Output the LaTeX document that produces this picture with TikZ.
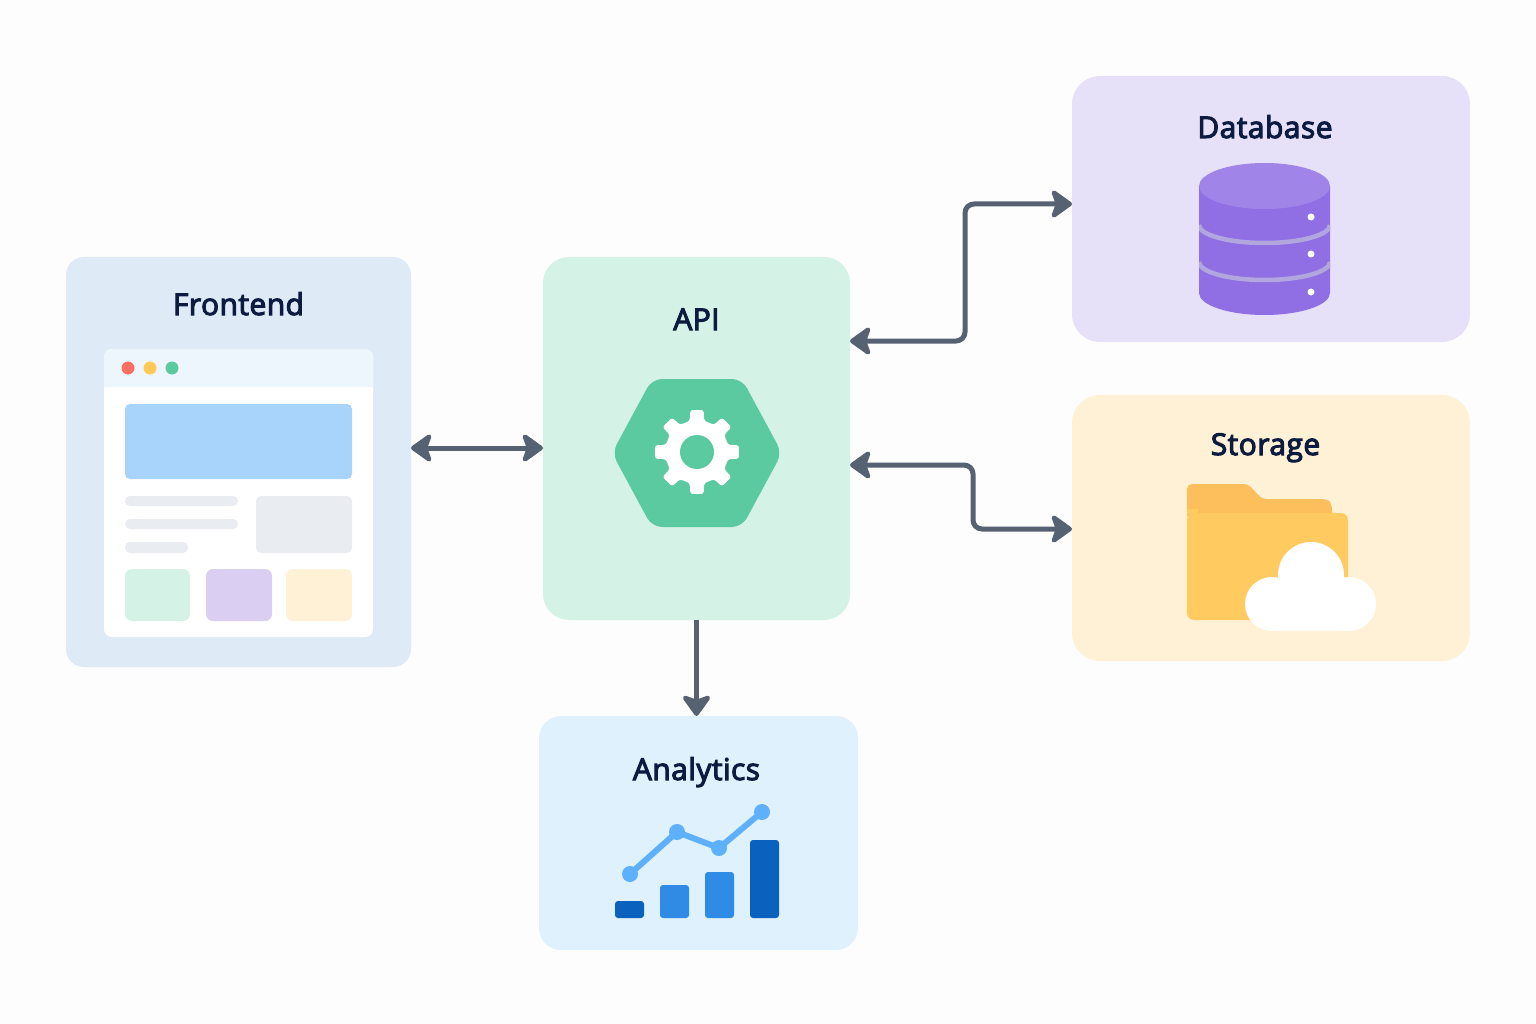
\documentclass[tikz,border=0pt]{standalone}
\usepackage{fontspec}
\setmainfont{Open Sans}[FakeBold=3.5,LetterSpace=1.5]
\usetikzlibrary{arrows.meta}
\definecolor{bgc}{HTML}{FDFDFD}
\definecolor{inkc}{HTML}{0C1B3F}
\definecolor{linec}{HTML}{566172}
\definecolor{fec}{HTML}{DEEBF7}
\definecolor{apic}{HTML}{D5F2E6}
\definecolor{hexc}{HTML}{5BCAA1}
\definecolor{dbc}{HTML}{E6E0F9}
\definecolor{stc}{HTML}{FFF1D6}
\definecolor{anc}{HTML}{DFF1FC}
\definecolor{barc}{HTML}{EEF6FD}
\definecolor{heroc}{HTML}{A8D3FB}
\definecolor{greyc}{HTML}{E9ECF1}
\definecolor{purc}{HTML}{DACFF3}
\definecolor{cylc}{HTML}{8F6FE3}
\definecolor{cyltop}{HTML}{A084E8}
\definecolor{bandc}{HTML}{B3A5DD}
\definecolor{foldb}{HTML}{FDBF5C}
\definecolor{foldf}{HTML}{FFCA5F}
\definecolor{bard}{HTML}{0B62BE}
\definecolor{barm}{HTML}{2E8BE6}
\definecolor{ptc}{HTML}{5FB0FB}
\definecolor{dotr}{HTML}{FF6F61}
\definecolor{doty}{HTML}{FFC857}
\tikzset{
  panel/.style={rectangle,inner sep=0pt,outer sep=0pt,draw=none},
  label/.style={text=inkc,font=\fontsize{30}{36}\selectfont,inner sep=0pt,anchor=base},
  headtip/.tip={Stealth[length=24pt,width=34pt,inset=6pt,round,sep=0pt]},
  link/.style={draw=linec,line width=5pt,rounded corners=9pt,headtip-headtip},
  linkone/.style={draw=linec,line width=5pt,-headtip},
}
\newcommand{\rbox}[6]{\fill[#6,rounded corners=#5pt] (#1,#2) rectangle (#3,#4);}
\begin{document}
\begin{tikzpicture}[x=1pt,y=-1pt]
\useasboundingbox (0,0) rectangle (1536,1024);
\fill[bgc] (0,0) rectangle (1536,1024);
% panels
\node[panel,fill=fec,rounded corners=18pt,minimum width=345pt,minimum height=410pt] (frontend) at (238.5,462) {};
\node[panel,fill=apic,rounded corners=26pt,minimum width=307pt,minimum height=363pt] (api) at (696.5,438.5) {};
\node[panel,fill=dbc,rounded corners=28pt,minimum width=398pt,minimum height=266pt] (database) at (1271,209) {};
\node[panel,fill=stc,rounded corners=28pt,minimum width=398pt,minimum height=266pt] (storage) at (1271,528) {};
\node[panel,fill=anc,rounded corners=22pt,minimum width=319pt,minimum height=234pt] (analytics) at (698.5,833) {};
% labels
\node[label] (lf) at (238.5,315) {Frontend};
\node[label] (la) at (696.5,330) {API};
\node[label] (ld) at (1265,138) {Database};
\node[label] (ls) at (1265.5,455) {Storage};
\node[label] (ln) at (696.5,780) {Analytics};
% connectors
\coordinate (fr) at (frontend.east |- 0,448);
\coordinate (al) at (api.west |- 0,448);
\coordinate (adb) at (api.east |- 0,341);
\coordinate (dba) at (database.west |- 0,204);
\coordinate (ast) at (api.east |- 0,465);
\coordinate (sta) at (storage.west |- 0,529);
\draw[link] (fr) -- (al);
\draw[link] (adb) -| (965,204) -- (dba);
\draw[link] (ast) -| (973,529) -- (sta);
\draw[linkone] (api.south) -- (api.south |- analytics.north);
% window
\rbox{104}{349}{373}{637}{8}{white}
\fill[barc,rounded corners=8pt] (104,395) -- (104,349) -- (373,349) -- (373,395) -- cycle;
\fill[white] (104,387) rectangle (373,397);
\fill[dotr] (128,368) circle (6.5);
\fill[doty] (150,368) circle (6.5);
\fill[hexc] (172,368) circle (6.5);
\rbox{125}{404}{352}{479}{5}{heroc}
\rbox{125}{496}{238}{506}{5}{greyc}
\rbox{125}{519}{238}{529}{5}{greyc}
\rbox{125}{542}{188}{553}{5}{greyc}
\rbox{256}{496}{352}{553}{5}{greyc}
\rbox{125}{569}{190}{621}{7}{apic}
\rbox{206}{569}{272}{621}{7}{purc}
\rbox{286}{569}{352}{621}{7}{stc}
% hexagon and gear
\fill[hexc,rounded corners=10pt] (612,453) -- (652,379) -- (742,379) -- (782,453) -- (742,527) -- (652,527) -- cycle;
\begin{scope}[shift={(697,452)}]
\fill[white,rounded corners=2.5pt]
  (90-13:32) -- (90-9:42.5) -- (90+9:42.5) -- (90+13:32) -- (90+32:32)
  -- (135-9:42.5) -- (135+9:42.5) -- (135+13:32) -- (135+32:32)
  -- (180-9:42.5) -- (180+9:42.5) -- (180+13:32) -- (180+32:32)
  -- (225-9:42.5) -- (225+9:42.5) -- (225+13:32) -- (225+32:32)
  -- (270-9:42.5) -- (270+9:42.5) -- (270+13:32) -- (270+32:32)
  -- (315-9:42.5) -- (315+9:42.5) -- (315+13:32) -- (315+32:32)
  -- (360-9:42.5) -- (360+9:42.5) -- (360+13:32) -- (360+32:32)
  -- (45-9:42.5) -- (45+9:42.5) -- (45+13:32) -- cycle;
\fill[hexc] (0,0) circle (17);
\end{scope}
% cylinder
\fill[cylc] (1199,186) -- (1199,293) arc[start angle=180,end angle=0,x radius=65.5,y radius=22] -- (1330,186) -- cycle;
\fill[cyltop] (1264.5,186) ellipse [x radius=65.5,y radius=23];
\begin{scope}
\clip (1199,200) rectangle (1330,300);
\draw[bandc,line width=4.5pt] (1199,225) arc[start angle=180,end angle=0,x radius=65.5,y radius=18];
\draw[bandc,line width=4.5pt] (1199,262) arc[start angle=180,end angle=0,x radius=65.5,y radius=18];
\end{scope}
\fill[white] (1311,217) circle (3.5);
\fill[white] (1311,254) circle (3.5);
\fill[white] (1311,292) circle (3.5);
% folder
\fill[foldb,rounded corners=5pt] (1187,520) -- (1187,484) -- (1248,484) -- (1262,499) -- (1327,499) -- (1332,504) -- (1332,520) -- cycle;
\fill[foldf,rounded corners=7pt] (1187,513) -- (1348,513) -- (1348,620) -- (1187,620) -- cycle;
\fill[foldf] (1187,509) rectangle (1198,514);
% cloud
\fill[white] (1311,575) circle (33);
\fill[white] (1272,604) circle (27);
\fill[white] (1349,604) circle (27);
\fill[white] (1272,590) rectangle (1349,631);
% chart
\rbox{615}{901}{644}{918}{3}{bard}
\rbox{660}{885}{689}{918}{3}{barm}
\rbox{705}{872}{734}{918}{3}{barm}
\rbox{750}{840}{779}{918}{3}{bard}
\draw[ptc,line width=6pt] (630,874) -- (677,832) -- (719,848) -- (762,812);
\foreach \p in {(630,874),(677,832),(719,848),(762,812)} \fill[ptc] \p circle (8);
\end{tikzpicture}
\end{document}
